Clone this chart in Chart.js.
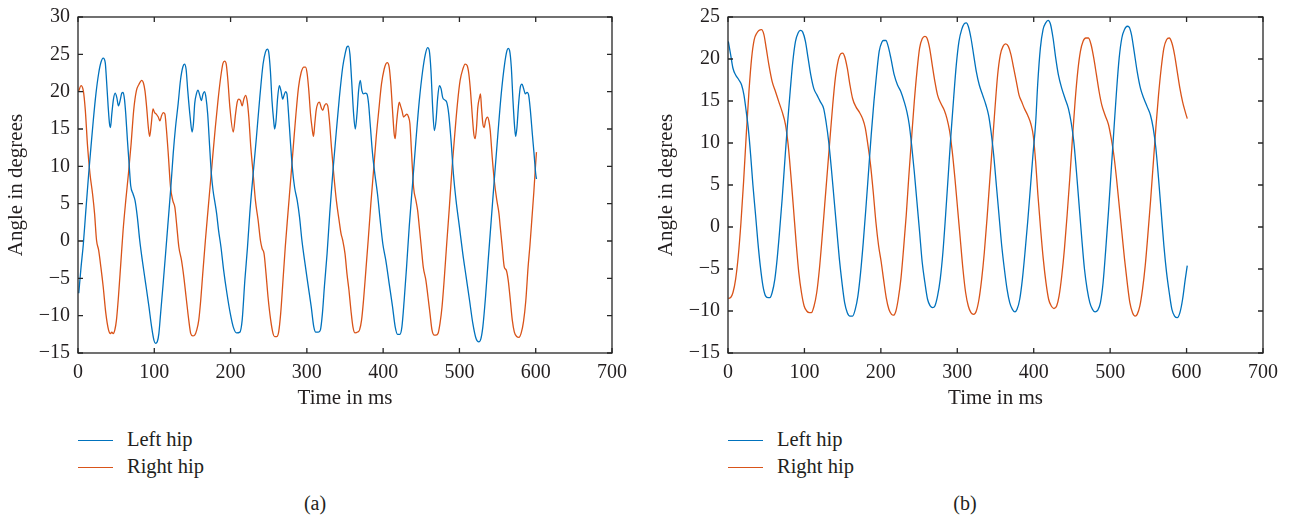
<!DOCTYPE html>
<html>
<head>
<meta charset="utf-8">
<title>Hip angle</title>
<script src="https://cdn.jsdelivr.net/npm/chart.js@4.4.1/dist/chart.umd.min.js"></script>
<style>
  body { margin: 0; background: #fff; width: 1293px; height: 522px; position: relative; overflow: hidden;
         font-family: "Liberation Serif", "DejaVu Serif", serif; color: #231f20; }
  .panel { position: absolute; top: 0; }
  .legend { position: absolute; font-size: 20.5px; }
  .legend div { position: relative; height: 27px; line-height: 27px; padding-left: 49px; white-space: nowrap; }
  .legend .swatch { position: absolute; left: 0; top: 14px; width: 35px; height: 1.4px; }
  .caption { position: absolute; top: 492px; font-size: 20px; transform: translateX(-50%); }
</style>
</head>
<body>
<canvas id="chartA" class="panel" style="left:0" width="640" height="420"></canvas>
<canvas id="chartB" class="panel" style="left:650px" width="643" height="420"></canvas>
<div id="legendA" class="legend" style="left:78px; top:426px"></div>
<div id="legendB" class="legend" style="left:728px; top:426px"></div>
<div class="caption" style="left:315px">(a)</div>
<div class="caption" style="left:965px">(b)</div>
<script>
// axis ticks
const xTicks = [0, 100, 200, 300, 400, 500, 600, 700];
const yTicksA = [-15, -10, -5, 0, 5, 10, 15, 20, 25, 30];
const yTicksB = [-15, -10, -5, 0, 5, 10, 15, 20, 25];

// (a) left hip: time (ms) and angle (deg)
const timeLeftA = [1,4,7,10,14,17,20,23.5,27,30,33,35.7,37.4,39.6,41.3,42.6,44.3,46.5,48.7,50.9,53,55.2,57.4,59.1,60.9,62.6,64.8,67,69.1,72.2,74.8,77.8,80.9,84.3,88.7,93,96.5,99.6,101.7,103.9,106,108.3,111.3,114.8,118.3,121.7,124.8,127.8,131.3,134.3,137.4,139.6,141.7,143.9,147,149.6,151.3,153,155.2,157.4,159.6,161.7,163.9,166,167.8,170,172.6,174.8,177,179.1,181.7,184.3,187.4,190.9,195.2,199.6,203.5,207.8,212.2,215.2,218.7,222.2,225.2,229.6,233.9,238.3,242.6,245.7,248.3,250,252.2,254.3,256.5,257.8,259.6,261.7,263.9,266.1,268.3,270,272.2,273.9,275.7,278.3,280.9,283.9,287.4,290.4,293.5,297,301.3,305.7,309.1,311.7,315.2,317.8,320.4,323,326.5,330,333.9,338.3,342.6,347,350,352.6,354.3,356.5,358.7,361.3,363.5,365.7,367.8,370,372.2,374.3,376.5,378.7,380.9,383,386.1,389.1,392.6,396.1,399.6,403.5,407.9,412.3,415.8,418.9,421.9,424.6,427.6,430.7,434.2,438.6,443,447.4,451.8,455.3,458.3,460.5,462.7,464.9,467.1,469.3,471.5,473.7,475.9,478.1,480.7,483.3,486,489,492.1,495.6,500,504.4,508.8,513.2,517.5,521.9,525.4,528.1,530.7,534.2,537.7,541.7,546,550.4,554.8,559.2,562.3,564,565.8,568,570.2,572.4,573.7,575.4,577.6,579.8,582,584.2,586.4,588.6,590.8,593,595.6,597.8,600,601];
const angleLeftA = [-7.0,-3.5,-0.4,3.7,9.0,12.6,16.1,19.7,22.4,23.9,24.5,23.9,21.5,17.9,15.7,15.2,17.0,19.0,19.8,19.2,18.1,18.8,19.8,19.9,19.0,17.0,13.5,10.3,7.4,6.3,5.4,3.2,0.1,-2.6,-5.7,-8.8,-11.5,-13.3,-13.7,-13.5,-12.4,-9.7,-6.1,-1.7,2.8,7.2,11.7,15.2,18.4,21.5,23.3,23.7,23.0,20.1,16.6,14.6,15.7,18.4,19.7,20.2,19.5,18.8,19.7,20.0,19.2,17.0,12.6,9.0,6.8,5.4,3.7,1.4,-0.8,-3.9,-7.0,-9.7,-11.5,-12.3,-12.2,-10.6,-5.3,-0.8,3.7,9.0,13.9,19.2,23.7,25.3,25.7,25.3,22.8,18.8,16.1,15.0,16.1,19.2,20.8,20.1,19.0,19.5,20.0,19.7,17.5,13.5,9.9,7.2,5.4,3.2,0.1,-2.6,-5.7,-8.8,-11.5,-12.2,-12.2,-11.9,-9.7,-6.1,-1.7,3.7,9.0,14.3,19.2,23.3,25.0,26.0,26.1,25.0,21.5,17.0,15.0,17.0,20.1,21.5,20.1,19.7,19.8,19.7,18.4,15.7,11.7,9.0,6.3,2.8,-0.4,-2.6,-5.7,-8.8,-11.5,-12.5,-12.5,-11.5,-7.9,-3.5,1.9,7.7,13.5,18.8,22.8,25.0,25.9,25.5,22.8,17.9,14.8,16.1,19.2,20.8,20.4,19.2,18.9,18.6,17.0,13.5,9.0,5.4,1.9,-1.7,-4.8,-7.9,-11.0,-13.1,-13.5,-13.1,-11.5,-7.5,-2.6,2.8,8.6,14.3,19.7,23.7,25.5,25.8,25.5,23.3,18.8,15.2,14.0,15.2,18.4,20.6,21.0,20.4,19.7,19.9,19.5,17.5,14.3,11.7,9.0,8.3];

// (a) right hip
const timeRightA = [1,3.9,7,9.6,12.6,15.7,19.1,21.7,24.3,27,30,33,36.5,40,42.6,44.3,46.1,48.3,50.4,53,56.1,59.1,62.6,66.1,69.6,73,76.5,80,83.5,85.7,87.8,90,92.2,93.9,96.1,98.3,100.4,102.6,105.2,107.4,109.6,111.7,113.9,115.7,118.3,121.3,124.3,127,129.6,132.2,135.7,138.7,141.7,145.2,147.8,150.4,153,155.7,158.3,160.9,163.5,167,170.4,173.5,176.5,180,183.5,187,190,192.2,194.3,196.5,199.1,203.5,206.5,208.7,210.9,213,215.2,217.4,219.6,221.7,223.9,226.5,229.6,232.6,236.1,239.1,241.3,243.9,246.5,249.1,252.6,255.7,257.8,260.4,263,265.7,268.7,271.7,275.2,278.7,282.2,285.7,289.1,292.6,296.1,298.3,300.4,302.6,304.8,307,308.7,310.4,312.2,314.3,316.5,318.7,320.9,323,325.2,327.4,329.6,332.2,335.2,338.7,342.2,344.8,347,350,352.6,355.2,357.8,360.4,363,366.5,369.1,371.7,374.3,377,380.4,383.9,387.4,390.9,394.3,397.8,401.3,403.5,405.3,407.9,410.1,412.3,414.5,415.8,417.5,419.3,421.1,422.8,424.6,426.8,428.9,431.1,433.3,435.1,437.3,439.9,443,445.2,447.4,450,452.6,456.1,458.8,461.4,464,467.1,469.3,471.9,474.6,477.2,480.3,483.3,486.8,490.4,493.9,497.4,500.9,504.4,507.5,510.1,512.3,514.5,516.7,518.9,520.6,522.4,524.1,526.3,527.6,528.9,530.7,532.5,534.2,536.8,538.6,540.4,543,546.1,549.1,551.8,553.5,556.1,558.8,561.4,564,566.7,569.3,572,575,578,581,584,587,590,592.5,595,597.5,600,601];
const angleRightA = [20.1,20.8,20.1,17.5,12.6,9.0,6.3,3.7,0.1,-1.2,-3.5,-6.1,-9.7,-11.9,-12.4,-12.2,-12.4,-11.9,-10.6,-7.5,-3.0,1.4,5.4,9.0,13.0,17.5,20.1,21.0,21.5,21.2,20.1,17.9,15.2,14.0,15.7,17.7,17.2,17.0,16.6,16.1,16.8,17.2,17.0,15.2,11.7,7.2,5.4,4.5,1.9,-0.8,-2.6,-4.8,-7.5,-10.6,-12.4,-12.7,-12.6,-11.9,-10.6,-7.9,-4.4,0.1,4.1,7.7,11.2,15.2,18.8,21.9,23.8,24.1,23.7,21.5,17.9,14.6,17.0,18.6,19.0,18.8,18.1,19.0,19.5,18.8,16.6,12.6,9.0,5.4,2.8,0.1,-1.0,-1.7,-4.4,-7.5,-10.6,-12.4,-12.8,-12.8,-12.2,-9.7,-5.3,-0.8,3.7,8.1,12.6,17.0,20.6,22.6,23.3,23.3,22.4,20.1,17.0,15.0,14.0,15.7,17.5,18.4,18.6,17.9,17.5,18.1,18.4,18.1,16.1,12.6,9.0,5.4,2.8,1.0,0.1,-1.7,-4.4,-6.6,-9.3,-11.5,-12.3,-12.2,-11.9,-10.6,-7.9,-4.4,0.1,5.0,9.4,13.9,17.5,21.0,23.0,23.7,23.9,23.3,21.0,17.5,14.3,13.7,15.7,17.5,18.6,18.1,17.5,16.6,16.8,17.0,16.6,15.7,11.7,7.2,5.4,4.1,1.9,-0.8,-3.5,-5.3,-7.5,-9.7,-11.9,-12.6,-12.6,-12.4,-11.0,-8.8,-4.8,-0.4,4.5,9.9,14.3,18.4,21.5,23.0,23.7,23.5,22.4,20.1,17.0,14.3,13.7,15.2,17.9,19.2,19.7,17.9,15.7,15.2,16.1,16.6,16.1,14.8,11.2,7.7,5.4,3.7,1.9,-0.8,-3.5,-3.9,-5.3,-7.9,-10.6,-12.2,-12.8,-12.9,-12.3,-10.8,-8.0,-3.5,-0.5,3.0,6.5,10.5,11.9];

// (b) left hip
const timeLeftB = [0.4,3.5,6.5,10,14.3,17.8,20.9,23.9,26.5,29.6,32.6,36.1,39.1,42.2,45.7,49.1,52.2,54.8,57.8,61.3,64.3,67.4,70.9,74.3,77.8,81.3,84.8,88.3,91.7,94.8,97.8,101.3,104.8,108.3,112.2,116.5,120.9,125.2,128.3,131.7,135.2,138.7,142.2,145.7,149.1,152.6,156.1,159.6,163,166.5,170,173.5,177,180.4,183.9,187.4,190.9,194.3,197.8,201.3,203.5,206.6,209.6,213.1,217.5,221.8,226.2,230.6,234.1,237.1,240.2,243.7,247.2,250.7,254.1,257.6,261.1,264.6,267.7,270.7,274.2,277.7,281.2,284.7,288.2,291.7,295.2,298.7,302.2,305.7,309.2,311.8,314.4,317.9,321.4,324.9,328.8,333.2,337.6,341,344.1,347.6,351.1,354.6,358.1,361.6,365.1,368.6,372.1,375.5,378.2,381.7,385.2,388.6,392.1,395.6,399,402.6,405.2,408.7,412.2,415.7,418.8,421.8,425.3,428.8,432.3,436.7,441,445.4,448.9,452.4,455.9,459.4,462.9,466.4,469.9,473.4,476.9,480.3,483.8,487.3,490.8,494.3,497.8,501.3,504.8,508.3,511.8,515.3,518.8,522.3,524.9,527.9,531.4,535.4,539.7,544.1,548.5,552.8,556.3,559.8,563.3,566.8,570.3,573.8,577.3,580.8,584.3,587.8,591.3,594.8,598.3,600.9];
const angleLeftB = [22.1,20.5,18.9,18.1,17.5,16.9,15.7,13.7,11.8,8.6,5.0,1.4,-1.8,-4.6,-7.0,-8.2,-8.4,-8.4,-7.8,-6.2,-3.8,-0.6,3.4,7.8,12.2,16.1,19.7,22.1,23.1,23.4,23.2,22.1,20.1,18.1,16.5,15.7,14.9,14.1,12.5,10.2,7.0,3.4,-0.2,-3.8,-6.6,-9.0,-10.2,-10.6,-10.6,-9.8,-8.2,-5.4,-1.8,2.2,6.6,11.0,14.9,18.1,20.9,22.0,22.2,22.2,21.5,20.1,18.1,16.9,16.1,14.9,13.7,12.2,9.8,6.6,3.0,-0.6,-4.2,-6.6,-8.6,-9.4,-9.6,-9.4,-8.2,-6.2,-3.0,1.4,6.2,11.0,15.3,19.3,22.1,23.5,24.2,24.3,23.9,22.5,20.5,18.5,16.9,15.7,14.5,13.3,11.4,8.6,5.0,1.4,-2.2,-5.0,-7.4,-9.0,-9.8,-10.1,-9.8,-8.6,-6.2,-3.0,0.6,4.6,8.6,12.5,17.0,21.3,23.5,24.3,24.6,24.2,22.5,20.1,18.1,16.5,15.3,14.1,12.5,10.2,6.6,2.6,-1.4,-5.0,-7.4,-9.0,-9.8,-10.1,-9.9,-9.0,-6.6,-2.6,1.8,6.6,11.4,16.1,20.1,22.5,23.5,23.9,23.8,22.9,20.9,18.5,16.5,15.3,14.3,13.3,11.8,9.4,5.8,1.8,-2.2,-5.4,-7.8,-9.8,-10.6,-10.8,-10.2,-8.6,-6.2,-4.6];

// (b) right hip
const timeRightB = [0.4,3.5,6.5,10,13.5,17,20.4,23.9,27.4,30.9,34.3,37.8,40.4,43.9,47,50,53.5,57.8,62.2,66.5,70.9,75.2,78.7,82.2,85.7,89.1,92.6,96.1,99.6,103,106.5,109.1,112.6,116.1,119.6,123,126.5,130,133.5,137,140.4,143.9,147.4,150,152.6,156.1,159.6,163,167.4,171.7,176.1,179.6,183,186.5,190,193.5,197,200.5,203.5,207,210.5,214,216.6,219.7,222.7,226.2,229.7,233.2,236.7,240.2,243.7,247.2,250.7,254.1,257.6,260.3,263.8,267.2,270.7,274.2,278.6,283,286.5,290,293.4,296.9,300.4,303.9,307.4,310.9,314.4,317.9,321.4,324.9,328.4,331.9,335.4,338.9,342.4,345.9,349.3,352.8,356.3,359.8,363.3,366.8,370.3,373.8,377.3,380.8,384.3,387.8,392.1,396.5,399.5,402.5,405.5,409,412.5,416,419.5,423,426.5,430,433.2,436.7,440.2,443.7,447.2,450.7,454.1,457.6,461.1,464.6,468.1,471.6,475.1,478.6,482.1,485.6,489.1,493.4,497.8,501.3,504.8,508.3,511.8,515.3,518.8,522.3,525.8,529.3,532.8,535.4,538.9,542.4,545.9,549.3,552.8,556.3,559.8,563.3,566.8,570.3,573.8,577.3,580.8,584.3,587.8,591.3,594.8,598.3,600.9];
const angleRightB = [-8.5,-8.4,-7.8,-6.2,-3.4,0.6,5.4,11.0,16.1,20.1,22.3,23.1,23.4,23.5,22.9,21.3,19.3,17.3,16.1,14.9,13.7,12.2,9.8,6.2,2.2,-1.8,-5.4,-7.8,-9.4,-10.0,-10.2,-10.2,-9.4,-7.8,-5.0,-1.4,2.6,6.6,10.6,14.5,17.7,19.7,20.6,20.7,20.3,18.9,16.9,15.3,14.3,13.7,12.9,11.8,9.8,7.4,4.2,0.6,-2.2,-4.2,-6.2,-8.4,-9.8,-10.4,-10.5,-10.0,-8.6,-6.2,-2.6,1.4,6.2,10.6,14.9,18.5,21.3,22.4,22.7,22.5,21.3,19.3,17.3,15.7,14.7,13.9,12.9,11.4,9.0,5.8,2.2,-1.4,-5.0,-7.8,-9.4,-10.2,-10.4,-10.0,-8.6,-6.2,-3.0,1.0,5.4,9.8,14.1,18.1,20.5,21.5,21.8,21.5,20.5,18.9,17.3,15.7,14.9,14.1,13.3,12.2,10.8,7.8,3.8,-0.2,-3.8,-6.6,-8.6,-9.4,-9.7,-9.4,-8.2,-5.8,-2.6,1.4,5.8,10.6,14.9,18.5,20.9,22.1,22.5,22.5,21.7,20.1,18.1,16.1,14.5,13.3,12.2,10.6,8.6,5.8,2.6,-0.6,-3.8,-6.6,-9.0,-10.2,-10.6,-10.4,-9.4,-7.4,-4.6,-1.0,3.0,7.4,11.8,15.7,18.9,21.3,22.3,22.5,21.9,20.5,18.5,16.5,14.9,13.7,12.9];

const BLUE = '#0072BD';
const ORANGE = '#D95319';
const INK = '#231f20';
const FAMILY = '"Liberation Serif", "DejaVu Serif", serif';
const TICK_FONT = { family: FAMILY, size: 20 };
const TITLE_FONT = { family: FAMILY, size: 21 };

function toPoints(ts, vs) {
  return ts.map((t, i) => ({ x: t, y: vs[i] }));
}

// closed frame with inward ticks on all four sides
const frameTicks = {
  id: 'frameTicks',
  afterDraw(chart) {
    const { ctx, chartArea: a, scales: { x, y } } = chart;
    ctx.save();
    ctx.strokeStyle = '#262626';
    ctx.lineWidth = 1.3;
    ctx.strokeRect(a.left, a.top, a.right - a.left, a.bottom - a.top);
    ctx.beginPath();
    x.ticks.forEach(t => {
      const px = x.getPixelForValue(t.value);
      ctx.moveTo(px, a.bottom); ctx.lineTo(px, a.bottom - 5);
      ctx.moveTo(px, a.top); ctx.lineTo(px, a.top + 5);
    });
    y.ticks.forEach(t => {
      const py = y.getPixelForValue(t.value);
      ctx.moveTo(a.left, py); ctx.lineTo(a.left + 5, py);
      ctx.moveTo(a.right, py); ctx.lineTo(a.right - 5, py);
    });
    ctx.stroke();
    ctx.restore();
  }
};

function makeChart(id, series, yTicks, rightPad) {
  return new Chart(document.getElementById(id), {
    type: 'line',
    data: {
      datasets: series.map(s => ({
        label: s.label,
        data: s.data,
        borderColor: s.color,
        borderWidth: 1.3,
        pointRadius: 0,
        cubicInterpolationMode: 'monotone',
        fill: false
      }))
    },
    options: {
      responsive: false,
      animation: false,
      devicePixelRatio: 1,
      layout: { padding: { top: 17, right: rightPad, bottom: 0, left: 0 } },
      plugins: { legend: { display: false }, tooltip: { enabled: false } },
      scales: {
        x: {
          type: 'linear',
          min: xTicks[0],
          max: xTicks[xTicks.length - 1],
          afterBuildTicks: s => { s.ticks = xTicks.map(v => ({ value: v })); },
          afterFit: s => { s.height = 67; },
          grid: { display: false },
          border: { display: false },
          ticks: { font: TICK_FONT, color: INK, padding: 0, maxRotation: 0 },
          title: { display: true, text: 'Time in ms', font: TITLE_FONT, color: INK, padding: { top: 0, bottom: 9 } }
        },
        y: {
          type: 'linear',
          min: yTicks[0],
          max: yTicks[yTicks.length - 1],
          afterBuildTicks: s => { s.ticks = yTicks.map(v => ({ value: v })); },
          afterFit: s => { s.width = 78; },
          grid: { display: false },
          border: { display: false },
          ticks: {
            font: TICK_FONT, color: INK, padding: 0,
            callback: v => String(v).replace('-', '\u2212')
          },
          title: { display: true, text: 'Angle in degrees', font: TITLE_FONT, color: INK, padding: { top: 4, bottom: 0 } }
        }
      }
    },
    plugins: [frameTicks]
  });
}

function buildLegend(el, chart) {
  chart.data.datasets.forEach(ds => {
    const row = document.createElement('div');
    const sw = document.createElement('span');
    sw.className = 'swatch';
    sw.style.background = ds.borderColor;
    row.appendChild(sw);
    row.appendChild(document.createTextNode(ds.label));
    el.appendChild(row);
  });
}

const chartA = makeChart('chartA', [
  { label: 'Left hip', color: BLUE, data: toPoints(timeLeftA, angleLeftA) },
  { label: 'Right hip', color: ORANGE, data: toPoints(timeRightA, angleRightA) }
], yTicksA, 28);

const chartB = makeChart('chartB', [
  { label: 'Left hip', color: BLUE, data: toPoints(timeLeftB, angleLeftB) },
  { label: 'Right hip', color: ORANGE, data: toPoints(timeRightB, angleRightB) }
], yTicksB, 30);

buildLegend(document.getElementById('legendA'), chartA);
buildLegend(document.getElementById('legendB'), chartB);
</script>
</body>
</html>
